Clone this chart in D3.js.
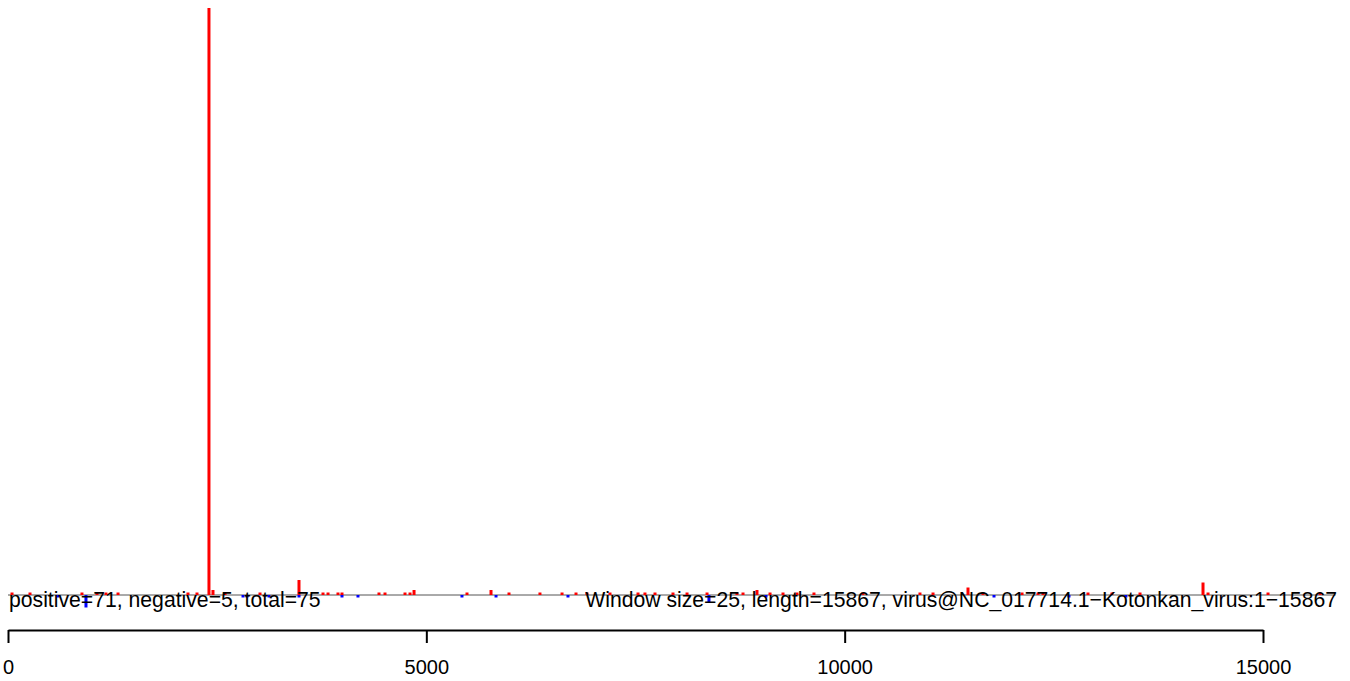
<!DOCTYPE html>
<html>
<head>
<meta charset="utf-8">
<script src="https://cdn.jsdelivr.net/npm/d3@7.9.0/dist/d3.min.js"></script>
<style>
  html, body { margin: 0; padding: 0; background: #fff; }
  svg text { font-family: "Liberation Sans", Arial, sans-serif; }
</style>
</head>
<body>
<svg id="chart" width="1350" height="681"></svg>
<script>
// genome info
const genomeLength = 15867;
const windowSize = 25;
const summaryLeft = 'positive=71, negative=5, total=75';
const summaryRight = 'Window size=25, length=15867, virus@NC_017714.1\u2212Kotonkan_virus:1\u221215867';
const xTicks = [0, 5000, 10000, 15000];

// positive windows (position, count)
const posPositions = [48, 263, 884, 1064, 1171, 1315, 2151, 2259, 2402, 2450, 2594, 3012, 3478, 3765, 3825,
  3944, 3992, 4434, 4506, 4745, 4805, 4853, 5486, 5773, 5988, 6358, 6622, 6789, 6920, 7195, 7530, 7613,
  7733, 7948, 8116, 8355, 8713, 8785, 8952, 9108, 9263, 9430, 9633, 10219, 10900, 11056, 11474, 11653,
  12120, 12311, 12371, 12908, 13195, 13530, 14283, 14343, 15060, 15681];
const posCounts = [1, 1, 1, 1, 1, 1, 1, 1, 235, 2, 1, 1, 6, 1, 1,
  1, 1, 1, 1, 1, 1, 2, 1, 2, 1, 1, 1, 1, 1, 1, 1, 1,
  1, 1, 1, 1, 1, 1, 2, 1, 1, 1, 1, 1, 1, 1, 3, 1,
  1, 1, 1, 1, 1, 1, 5, 1, 1, 1];

// negative windows (position, count)
const negPositions = [598, 932, 2809, 2857, 3120, 3478, 3992, 4183, 5426, 5833, 6693, 8378, 9060, 11785, 12681, 13362];
const negCounts = [1, 5, 1, 1, 1, 1, 1, 1, 1, 1, 1, 3, 1, 1, 1, 1];

const svg = d3.select('#chart');

const x = d3.scaleLinear().domain([0, 15000]).range([8, 1263]);
const y = d3.scaleLinear().domain([0, 235]).range([595, 8]);

const barW = 3;

// baseline across genome
svg.append('line')
  .attr('x1', x(0)).attr('x2', x(genomeLength))
  .attr('y1', y(0)).attr('y2', y(0))
  .attr('stroke', '#555').attr('stroke-width', 1);

// positive bars
svg.append('g').selectAll('rect')
  .data(posPositions.map((p, i) => ({ pos: p, n: posCounts[i] })))
  .join('rect')
  .attr('x', d => x(d.pos) - barW / 2)
  .attr('y', d => y(d.n))
  .attr('width', barW)
  .attr('height', d => y(0) - y(d.n))
  .attr('fill', '#ff0000');

// negative bars
svg.append('g').selectAll('rect')
  .data(negPositions.map((p, i) => ({ pos: p, n: negCounts[i] })))
  .join('rect')
  .attr('x', d => x(d.pos) - barW / 2)
  .attr('y', y(0))
  .attr('width', barW)
  .attr('height', d => y(-d.n) - y(0))
  .attr('fill', '#0000ff');

// labels on the baseline
svg.append('text')
  .attr('x', 9).attr('y', 607)
  .attr('font-size', 21.2)
  .text(summaryLeft);

svg.append('text')
  .attr('x', 1337).attr('y', 607)
  .attr('text-anchor', 'end')
  .attr('font-size', 21.2)
  .text(summaryRight);

// x axis
const axis = svg.append('g')
  .attr('transform', 'translate(0,630)')
  .call(d3.axisBottom(x).tickValues(xTicks).tickSize(13).tickSizeOuter(0).tickPadding(17).tickFormat(d3.format('d')));
axis.select('.domain').attr('stroke', '#000').attr('stroke-width', 2);
axis.selectAll('.tick line').attr('stroke', '#000').attr('stroke-width', 2);
axis.selectAll('.tick text').attr('font-size', 20).attr('fill', '#000')
  .attr('font-family', '"Liberation Sans", Arial, sans-serif');
</script>
</body>
</html>
